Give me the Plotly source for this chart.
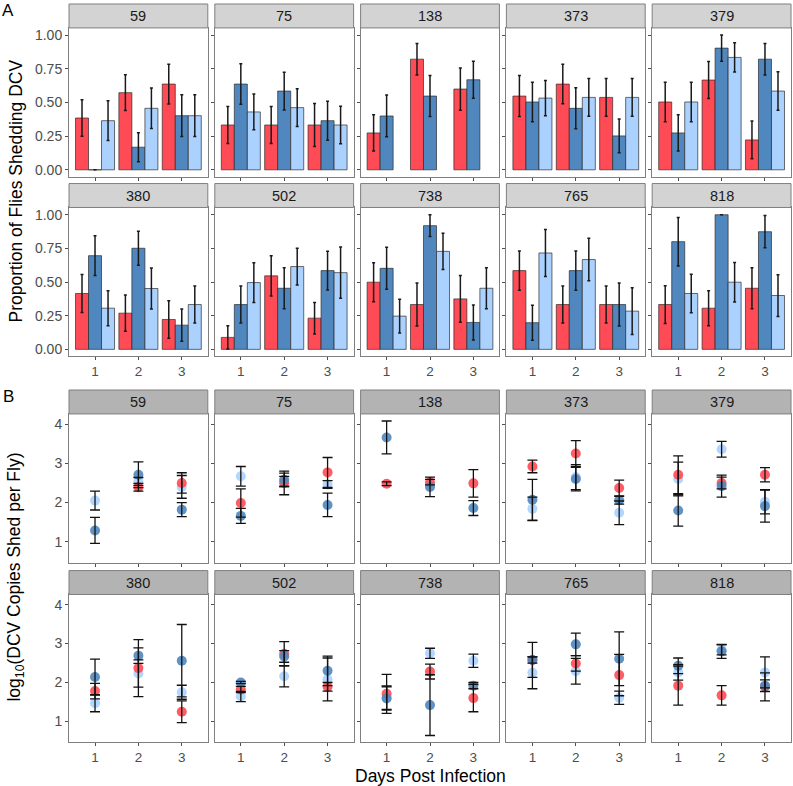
import plotly.graph_objects as go

# fly lines (facets) and days post infection
lines = ["59", "75", "138", "373", "379", "380", "502", "738", "765", "818"]
days = [1, 2, 3]

# A: proportion of flies shedding DCV (per line, per day)
prop_red = [[0.385, 0.573, 0.637], [0.333, 0.333, 0.333], [0.274, 0.822, 0.600],
            [0.548, 0.637, 0.538], [0.504, 0.667, 0.222], [0.415, 0.269, 0.222],
            [0.089, 0.546, 0.232], [0.499, 0.333, 0.375], [0.585, 0.333, 0.333],
            [0.333, 0.306, 0.454]]
prop_red_se = [[0.135, 0.133, 0.148], [0.138, 0.138, 0.160], [0.135, 0.117, 0.157],
               [0.152, 0.147, 0.140], [0.147, 0.137, 0.140], [0.142, 0.135, 0.140],
               [0.087, 0.150, 0.117], [0.145, 0.160, 0.174], [0.145, 0.138, 0.138],
               [0.140, 0.130, 0.152]]
prop_dark = [[0.0, 0.168, 0.402], [0.637, 0.585, 0.365], [0.400, 0.548, 0.669],
             [0.504, 0.457, 0.252], [0.274, 0.904, 0.822], [0.696, 0.751, 0.180],
             [0.333, 0.454, 0.585], [0.602, 0.919, 0.200], [0.198, 0.585, 0.333],
             [0.800, 1.000, 0.874]]
prop_dark_se = [[0.0, 0.108, 0.155], [0.150, 0.140, 0.145], [0.155, 0.152, 0.137],
                [0.147, 0.152, 0.126], [0.135, 0.098, 0.117], [0.148, 0.127, 0.120],
                [0.138, 0.152, 0.144], [0.156, 0.080, 0.130], [0.130, 0.145, 0.160],
                [0.180, 0.0, 0.120]]
prop_light = [[0.365, 0.457, 0.402], [0.430, 0.462, 0.333], [None, None, None],
              [0.533, 0.538, 0.538], [0.504, 0.835, 0.585], [0.306, 0.452, 0.333],
              [0.496, 0.615, 0.570], [0.247, 0.728, 0.454], [0.716, 0.667, 0.284],
              [0.415, 0.499, 0.400]]
prop_light_se = [[0.148, 0.150, 0.155], [0.133, 0.140, 0.140], [None, None, None],
                 [0.131, 0.140, 0.140], [0.147, 0.108, 0.143], [0.130, 0.152, 0.138],
                 [0.147, 0.136, 0.190], [0.126, 0.135, 0.152], [0.174, 0.158, 0.173],
                 [0.143, 0.147, 0.155]]

# B: log10 DCV copies shed per fly
log_red = [[None, 2.39, 2.50], [1.99, 2.50, 2.77], [2.48, 2.52, 2.49],
           [2.92, 3.25, 2.37], [2.71, 2.50, 2.71], [1.78, 2.37, 1.25],
           [1.82, 2.74, 1.89], [1.71, 2.28, 1.60], [2.58, 2.49, 2.19],
           [1.92, 1.67, 1.89]]
log_red_se = [[None, 0.10, 0.26], [0.36, 0.30, 0.38], [0.05, 0.07, 0.35],
              [0.16, 0.33, 0.20], [0.48, 0.15, 0.18], [0.20, 0.73, 0.28],
              [0.08, 0.31, 0.11], [0.50, 0.19, 0.35], [0.45, 0.20, 0.53],
              [0.50, 0.25, 0.36]]
log_dark = [[1.29, 2.71, 1.82], [1.66, 2.58, 1.94], [3.66, 2.40, 1.86],
            [2.07, 2.60, 2.06], [1.80, 2.42, 1.91], [2.14, 2.69, 2.56],
            [2.00, 2.67, 2.30], [1.59, 1.42, 1.92], [2.58, 2.98, 2.61],
            [2.43, 2.80, 1.92]]
log_dark_se = [[0.33, 0.33, 0.18], [0.19, 0.17, 0.30], [0.42, 0.25, 0.19],
               [0.52, 0.30, 0.10], [0.40, 0.28, 0.41], [0.46, 0.20, 0.93],
               [0.03, 0.15, 0.38], [0.30, 0.78, 0.08], [0.08, 0.29, 0.69],
               [0.20, 0.18, 0.15]]
log_light = [[2.05, 2.54, 2.40], [2.67, 2.54, 2.46], [None, None, None],
             [1.84, 2.65, 1.74], [2.60, 3.36, 2.02], [1.47, 2.23, 1.75],
             [1.64, 2.16, 2.08], [1.61, 2.75, 2.56], [2.25, 2.29, 1.61],
             [2.26, 2.84, 2.26]]
log_light_se = [[0.24, 0.10, 0.29], [0.25, 0.13, 0.10], [None, None, None],
                [0.30, 0.32, 0.30], [0.43, 0.20, 0.31], [0.22, 0.35, 0.18],
                [0.13, 0.27, 0.55], [0.30, 0.13, 0.17], [0.41, 0.33, 0.17],
                [0.20, 0.13, 0.40]]

RED = "#FF4B55"
DARK = "#4F87BE"
LIGHT = "#ABD1FF"
FONT = "Liberation Sans, Arial, sans-serif"

W, H = 793, 786
def fx(px): return px / W
def fy(py): return 1 - py / H

col_w, col_gap, col_x0 = 138.8, 7.0, 69
rows = {"A1": (27, 176), "A2": (207, 356), "B1": (414, 563), "B2": (595, 743)}
strips = {"A1": (3, 27), "A2": (183, 207), "B1": (390, 414), "B2": (571, 595)}

fig = go.Figure()
layout = {}
shapes = []
annots = []

def label(text, px, py, size=14.5, color="#1A1A1A", angle=0):
    annots.append(dict(text=text, x=fx(px), y=fy(py), xref="paper", yref="paper",
                       xanchor="center", yanchor="middle", showarrow=False, textangle=angle,
                       font=dict(size=size, color=color, family=FONT)))

def add_axes(k, row, col, yrange, ytick, yfmt):
    x0 = col_x0 + col * (col_w + col_gap)
    y0, y1 = rows[row]
    common = dict(showgrid=False, zeroline=False, showline=True, mirror=True,
                  linecolor="#7F7F7F", linewidth=1, ticks="outside", ticklen=3,
                  tickcolor="#4D4D4D")
    layout[f"xaxis{k}"] = dict(domain=[fx(x0), fx(x0 + col_w)], anchor=f"y{k}",
                               range=[0.4, 3.6], tickvals=days,
                               tickfont=dict(size=13.5, color="#4D4D4D", family=FONT),
                               showticklabels=row.endswith("2"), **common)
    layout[f"yaxis{k}"] = dict(domain=[fy(y1), fy(y0)], anchor=f"x{k}", range=yrange,
                               tickvals=ytick, tickformat=yfmt,
                               tickfont=dict(size=14, color="#4D4D4D", family=FONT),
                               showticklabels=(col == 0), **common)
    s0, s1 = strips[row]
    shapes.append(dict(type="rect", xref="paper", yref="paper",
                       x0=fx(x0), x1=fx(x0 + col_w), y0=fy(s1), y1=fy(s0),
                       fillcolor="#D3D3D3" if row[0] == "A" else "#B3B3B3",
                       line=dict(color="#7F7F7F", width=1)))
    label(lines[(k - 1) % 10], x0 + col_w / 2, (s0 + s1) / 2)

for i, ln in enumerate(lines):
    k = i + 1
    add_axes(k, "A1" if i < 5 else "A2", i % 5, [-0.05, 1.054], [0, 0.25, 0.5, 0.75, 1.0], ".2f")
    for vals, errs, colr in [(prop_red, prop_red_se, RED), (prop_dark, prop_dark_se, DARK),
                             (prop_light, prop_light_se, LIGHT)]:
        fig.add_trace(go.Bar(x=days, y=vals[i], xaxis=f"x{k}", yaxis=f"y{k}",
                             marker=dict(color=colr, line=dict(color="rgba(40,40,40,0.85)", width=0.8)),
                             error_y=dict(type="data", array=errs[i], color="#1A1A1A",
                                          thickness=1.5, width=1.5),
                             showlegend=False))

for i, ln in enumerate(lines):
    k = i + 11
    add_axes(k, "B1" if i < 5 else "B2", i % 5, [0.47, 4.26], [1, 2, 3, 4], None)
    for vals, colr in [(log_light, LIGHT), (log_red, RED), (log_dark, DARK)]:
        fig.add_trace(go.Scatter(x=days, y=vals[i], mode="markers", xaxis=f"x{k}", yaxis=f"y{k}",
                                 marker=dict(color=colr, size=10, opacity=0.9),
                                 showlegend=False))
    # error bars drawn on top of the points
    for vals, errs in [(log_light, log_light_se), (log_red, log_red_se), (log_dark, log_dark_se)]:
        fig.add_trace(go.Scatter(x=days, y=vals[i], mode="markers", xaxis=f"x{k}", yaxis=f"y{k}",
                                 marker=dict(size=1, opacity=0),
                                 error_y=dict(type="data", array=errs[i], color="#111111",
                                              thickness=1.3, width=5),
                                 showlegend=False))

# panel letters and axis titles
label("A", 8, 10, size=17, color="#000000")
label("B", 8, 397, size=17, color="#000000")
label("Proportion of Flies Shedding DCV", 16, 191, size=17.5, color="#000000", angle=-90)
label("log<sub>10</sub>(DCV Copies Shed per Fly)", 16, 578, size=17.5, color="#000000", angle=-90)
label("Days Post Infection", 430, 777, size=17.5, color="#000000")

fig.update_layout(width=W, height=H, margin=dict(l=0, r=0, t=0, b=0),
                  paper_bgcolor="white", plot_bgcolor="white",
                  barmode="group", bargap=0.1, bargroupgap=0,
                  shapes=shapes, annotations=annots, font=dict(family=FONT),
                  **layout)

fig.write_html("out.html", config={"displayModeBar": False},
               post_script="document.body.style.margin='0';")
